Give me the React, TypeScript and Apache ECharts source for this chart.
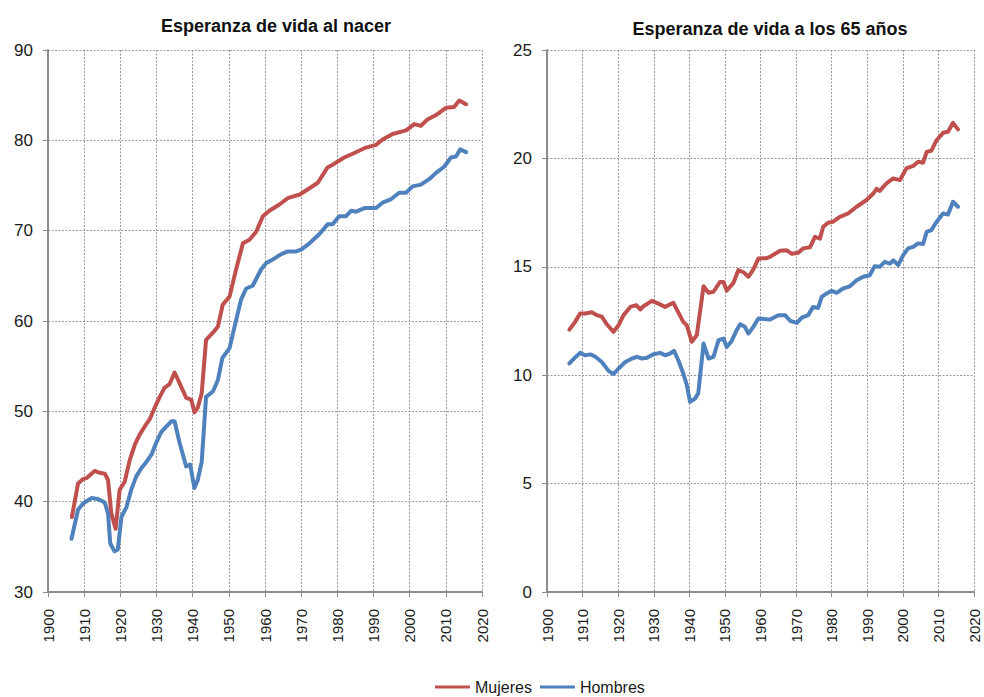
import React, { useEffect, useRef } from "react";
import * as echarts from "echarts";

const seriesNames = ["Mujeres", "Hombres"];
const titles = ["Esperanza de vida al nacer", "Esperanza de vida a los 65 años"];

// Esperanza de vida al nacer: [año, valor]
const mujeresNacer: number[][] = [
  [1906.6, 38.3], [1908.3, 42.0], [1909.7, 42.5], [1910.6, 42.6], [1912.9, 43.4], [1914.3, 43.2],
  [1915.7, 43.1], [1916.6, 42.4], [1917.5, 38.7], [1918.7, 37.0], [1919.8, 41.3], [1921.2, 42.2],
  [1922.6, 44.6], [1924, 46.3], [1925.3, 47.4], [1926.7, 48.3], [1928.1, 49.1], [1929.5, 50.4],
  [1930.9, 51.6], [1932.2, 52.6], [1933.6, 53.0], [1935, 54.3], [1936.4, 53.1], [1938.2, 51.5],
  [1939.6, 51.3], [1940.5, 49.9], [1941.4, 50.4], [1942.5, 52.0], [1943.7, 57.9], [1945.6, 58.7],
  [1947, 59.4], [1948.3, 61.8], [1950.2, 62.7], [1952, 65.7], [1953.9, 68.6], [1955.7, 69.0],
  [1957.6, 69.9], [1959.4, 71.6], [1961.2, 72.2], [1964, 72.9], [1966.3, 73.6], [1969.6, 74.0],
  [1972.3, 74.7], [1974.6, 75.3], [1977.3, 77.0], [1978.7, 77.3], [1981.9, 78.1], [1984.7, 78.6],
  [1987.9, 79.2], [1990.7, 79.5], [1992.5, 80.1], [1995.3, 80.7], [1999, 81.1], [2001.3, 81.8],
  [2003.1, 81.6], [2004.9, 82.3], [2007.3, 82.8], [2010, 83.6], [2012.3, 83.7], [2013.7, 84.4],
  [2015.6, 84.0],
];
const hombresNacer: number[][] = [
  [1906.5, 35.9], [1908.3, 39.1], [1909.7, 39.8], [1912, 40.4], [1913.8, 40.3], [1915.7, 39.9],
  [1916.6, 38.7], [1917.2, 35.4], [1918.4, 34.5], [1919.3, 34.7], [1920.3, 38.3], [1921.7, 39.4],
  [1923, 41.3], [1924.4, 42.8], [1925.8, 43.7], [1927.2, 44.4], [1928.6, 45.2], [1929.9, 46.5],
  [1931.3, 47.7], [1932.7, 48.3], [1934.1, 48.9], [1935, 48.9], [1936.4, 46.5], [1938.2, 43.9],
  [1939.3, 44.1], [1940.5, 41.5], [1941.4, 42.4], [1942.5, 44.4], [1943.7, 51.6], [1945.6, 52.2],
  [1947, 53.5], [1948.2, 55.9], [1950.2, 57.0], [1951.6, 59.4], [1953.4, 62.4], [1954.8, 63.6],
  [1956.6, 63.9], [1958.9, 65.7], [1960.3, 66.4], [1962.1, 66.8], [1964.5, 67.4], [1966.3, 67.7],
  [1968.6, 67.7], [1970, 67.9], [1972.3, 68.6], [1975, 69.6], [1977.3, 70.7], [1978.7, 70.7],
  [1980.5, 71.6], [1982.4, 71.6], [1983.8, 72.2], [1985.2, 72.1], [1987.5, 72.5], [1990.7, 72.5],
  [1992.5, 73.1], [1994.9, 73.5], [1997.1, 74.2], [1999, 74.2], [2000.8, 74.9], [2003.1, 75.1],
  [2005.4, 75.7], [2007.3, 76.4], [2009.6, 77.1], [2011.4, 78.1], [2012.8, 78.2], [2014, 79.0],
  [2015.6, 78.7],
];

// Esperanza de vida a los 65 años: [año, valor]
const mujeres65: number[][] = [
  [1906.3, 12.1], [1907.9, 12.46], [1909.3, 12.85], [1910.7, 12.85], [1912.6, 12.9], [1914, 12.77],
  [1915.4, 12.7], [1916.8, 12.35], [1918.7, 12.0], [1920.1, 12.3], [1921.5, 12.77], [1923.4, 13.15],
  [1925.1, 13.23], [1926.2, 13.03], [1927.1, 13.18], [1929.5, 13.43], [1931.3, 13.3], [1933.2, 13.15],
  [1935.5, 13.34], [1936.9, 12.9], [1938.3, 12.46], [1939.3, 12.3], [1940.7, 11.54], [1942.1, 11.85],
  [1944, 14.1], [1945.4, 13.8], [1946.8, 13.85], [1948.6, 14.3], [1949.6, 14.3], [1950.5, 13.9],
  [1952.4, 14.26], [1953.8, 14.85], [1955.2, 14.75], [1956.6, 14.54], [1958, 14.88], [1959.4, 15.38],
  [1961.7, 15.4], [1962.7, 15.46], [1965.5, 15.74], [1967.4, 15.76], [1968.8, 15.6], [1970.6, 15.65],
  [1972, 15.85], [1973.9, 15.9], [1975.3, 16.38], [1976.7, 16.3], [1977.6, 16.84], [1979, 17.03],
  [1980.4, 17.08], [1982.3, 17.3], [1984.6, 17.46], [1987, 17.77], [1989.8, 18.08], [1991.7, 18.38],
  [1992.6, 18.6], [1993.5, 18.5], [1995.4, 18.85], [1997.3, 19.08], [1999.2, 19.0], [2001, 19.54],
  [2002.9, 19.65], [2004.3, 19.85], [2005.7, 19.8], [2006.7, 20.3], [2008, 20.35], [2009.5, 20.84],
  [2011.3, 21.18], [2012.7, 21.23], [2014.1, 21.64], [2015.5, 21.34],
];
const hombres65: number[][] = [
  [1906.3, 10.54], [1907.9, 10.82], [1909.3, 11.03], [1910.7, 10.92], [1912.2, 10.96], [1913.6, 10.85],
  [1915.4, 10.61], [1917.3, 10.2], [1918.7, 10.05], [1920.1, 10.31], [1922, 10.61], [1923.9, 10.77],
  [1925.3, 10.85], [1926.7, 10.77], [1928.1, 10.8], [1929.9, 10.97], [1931.8, 11.03], [1933.2, 10.92],
  [1934.6, 11.0], [1935.7, 11.12], [1936.9, 10.69], [1938.3, 10.08], [1939.3, 9.54], [1940.2, 8.77],
  [1941.6, 8.92], [1942.5, 9.16], [1944, 11.46], [1945.4, 10.77], [1946.8, 10.85], [1948.2, 11.62],
  [1949.6, 11.69], [1950.5, 11.3], [1951.9, 11.58], [1953.3, 12.08], [1954.3, 12.35], [1955.6, 12.23],
  [1956.6, 11.92], [1958, 12.23], [1959.4, 12.62], [1961.7, 12.58], [1962.7, 12.57], [1965, 12.77],
  [1966.9, 12.77], [1968.3, 12.51], [1970.2, 12.41], [1971.6, 12.66], [1973.4, 12.77], [1974.8, 13.15],
  [1976.2, 13.1], [1977.2, 13.61], [1978.6, 13.77], [1980, 13.89], [1981.4, 13.8], [1983.2, 14.0],
  [1985.1, 14.1], [1987, 14.38], [1988.9, 14.54], [1990.7, 14.61], [1992.1, 15.03], [1993.5, 15.0],
  [1994.9, 15.23], [1996.4, 15.15], [1997.3, 15.3], [1998.7, 15.08], [2000.1, 15.54], [2001.5, 15.85],
  [2002.9, 15.92], [2004.3, 16.08], [2005.7, 16.05], [2006.7, 16.61], [2008, 16.69], [2009.5, 17.08],
  [2011.3, 17.46], [2012.7, 17.41], [2014.1, 18.0], [2015.5, 17.77],
];

const RED = "#C0504D";
const BLUE = "#4F81BD";
const FONT = "'Liberation Sans', Arial, sans-serif";
const GRID_LINE = { color: "#9a9a9a", type: [2, 1.5], width: 1 };

function xAxisCfg(gridIndex: number) {
  return {
    type: "value" as const,
    gridIndex,
    min: 1900,
    max: 2020,
    interval: 10,
    axisLine: { show: true, onZero: false, lineStyle: { color: "#8c8c8c", width: 2 } },
    axisTick: { show: true, length: 5, lineStyle: { color: "#8c8c8c" } },
    axisLabel: {
      rotate: 90,
      margin: 17,
      fontSize: 15,
      color: "#1a1a1a",
      fontFamily: FONT,
      formatter: (v: number) => String(v),
    },
    splitLine: { show: true, lineStyle: GRID_LINE },
  };
}

function yAxisCfg(gridIndex: number, min: number, max: number, interval: number) {
  return {
    type: "value" as const,
    gridIndex,
    min,
    max,
    interval,
    axisLine: { show: true, lineStyle: { color: "#8c8c8c", width: 2 } },
    axisTick: { show: true, length: 5, lineStyle: { color: "#8c8c8c" } },
    axisLabel: { margin: 15, fontSize: 17, color: "#1a1a1a", fontFamily: FONT },
    splitLine: { show: true, lineStyle: GRID_LINE },
  };
}

function lineSeries(name: string, data: number[][], color: string, idx: number) {
  return {
    name,
    type: "line" as const,
    xAxisIndex: idx,
    yAxisIndex: idx,
    data,
    symbol: "none",
    smooth: false,
    lineStyle: { color, width: 4, cap: "round", join: "round" },
    itemStyle: { color },
  };
}

export default function App() {
  const ref = useRef<HTMLDivElement>(null);
  useEffect(() => {
    if (!ref.current) return;
    const chart = echarts.init(ref.current, undefined, { renderer: "svg" });
    chart.setOption({
      animation: false,
      backgroundColor: "#ffffff",
      title: [
        {
          text: titles[0],
          left: 271,
          top: 12,
          textAlign: "center",
          textStyle: { fontSize: 18, fontWeight: "bold", color: "#111", fontFamily: FONT },
        },
        {
          text: titles[1],
          left: 765,
          top: 15,
          textAlign: "center",
          textStyle: { fontSize: 18, fontWeight: "bold", color: "#111", fontFamily: FONT },
        },
      ],
      legend: {
        data: seriesNames.map((n) => ({ name: n, icon: "rect" })),
        left: 435,
        top: 679,
        itemWidth: 35,
        itemHeight: 3,
        itemGap: 8,
        padding: 0,
        textStyle: { fontSize: 16, color: "#1a1a1a", fontFamily: FONT },
      },
      grid: [
        { left: 48, top: 50, width: 434, height: 542 },
        { left: 547, top: 50, width: 427, height: 542 },
      ],
      xAxis: [xAxisCfg(0), xAxisCfg(1)],
      yAxis: [yAxisCfg(0, 30, 90, 10), yAxisCfg(1, 0, 25, 5)],
      series: [
        lineSeries(seriesNames[0], mujeresNacer, RED, 0),
        lineSeries(seriesNames[1], hombresNacer, BLUE, 0),
        lineSeries(seriesNames[0], mujeres65, RED, 1),
        lineSeries(seriesNames[1], hombres65, BLUE, 1),
      ],
    });
    return () => chart.dispose();
  }, []);
  return (
    <div
      ref={ref}
      style={{ position: "fixed", left: 0, top: 0, width: 984, height: 697 }}
    />
  );
}
